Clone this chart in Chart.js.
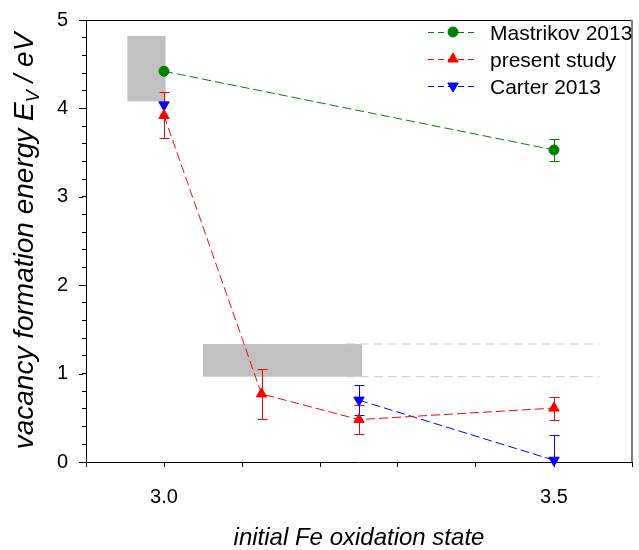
<!DOCTYPE html>
<html>
<head>
<meta charset="utf-8">
<script src="https://cdn.jsdelivr.net/npm/chart.js@4.4.1/dist/chart.umd.min.js"></script>
<style>
  html, body { margin: 0; padding: 0; background: #fff; }
</style>
</head>
<body>
<canvas id="chart" width="639" height="550"></canvas>
<script>
// ─── Data ────────────────────────────────────────────────
const mastrikovX = [3.0, 3.5];
const mastrikovY = [4.42, 3.53];
const mastrikovErr = [0, 0.12];

const presentX = [3.0, 3.125, 3.25, 3.5];
const presentY = [3.92, 0.77, 0.48, 0.61];
const presentErr = [0.26, 0.28, 0.16, 0.13];

// first Carter point stands alone (no line to the next one)
const carterX = [3.0, 3.25, 3.5];
const carterY = [4.04, 0.70, 0.02];
const carterErr = [0, 0.17, 0.28];
const carterLinked = [false, true];

// grey ranges
const rangeX0 = [2.953, 3.05];
const rangeX1 = [3.002, 3.254];
const rangeY0 = [4.08, 0.965];
const rangeY1 = [4.82, 1.335];

// dashed continuation of the lower range
const refLineX = [3.233, 3.558];
const refLineY = [1.335, 0.965];

const xTickLabels = ['3.0', '3.5'];
const yTickLabels = ['0', '1', '2', '3', '4', '5'];

const FONT = "'Liberation Sans', Arial, sans-serif";
const DASH = [9, 4];

const pts = (xs, ys) => xs.map((x, i) => ({ x, y: ys[i] }));

function series(label, xs, ys, errs, color, style, rotation, radius, linked) {
    return {
        label,
        data: pts(xs, ys),
        errors: errs,
        showLine: true,
        borderColor: color,
        backgroundColor: color,
        borderWidth: 1,
        borderDash: DASH,
        pointStyle: style,
        rotation,
        pointRadius: radius,
        pointBorderWidth: 1,
        clip: false,
        inLegend: true,
        segment: linked ? {
            borderColor: ctx => linked[ctx.p0DataIndex] === false ? 'rgba(0,0,0,0)' : undefined
        } : undefined
    };
}

const refLines = refLineY.map(y => ({
    label: 'ref',
    data: pts(refLineX, [y, y]),
    showLine: true,
    borderColor: '#c8c8c8',
    borderWidth: 1,
    borderDash: [9, 5],
    pointRadius: 0
}));

// ─── Plugins ─────────────────────────────────────────────
const behindPlugin = {
    id: 'behind',
    beforeDatasetsDraw(chart) {
        const { ctx, chartArea: a, scales: { x, y } } = chart;
        ctx.save();
        ctx.beginPath();
        ctx.rect(a.left, a.top, a.right - a.left, a.bottom - a.top);
        ctx.clip();
        // grey boxes
        ctx.fillStyle = '#c0c0c0';
        rangeX0.forEach((x0, i) => {
            const px0 = x.getPixelForValue(x0), px1 = x.getPixelForValue(rangeX1[i]);
            const py0 = y.getPixelForValue(rangeY1[i]), py1 = y.getPixelForValue(rangeY0[i]);
            ctx.fillRect(px0, py0, px1 - px0, py1 - py0);
        });
        // error bars
        chart.data.datasets.forEach(ds => {
            if (!ds.errors) return;
            ctx.strokeStyle = ds.borderColor;
            ctx.lineWidth = 1;
            ds.data.forEach((p, i) => {
                const e = ds.errors[i];
                if (!e) return;
                const px = Math.round(x.getPixelForValue(p.x)) + 0.5;
                const top = Math.round(y.getPixelForValue(p.y + e)) + 0.5;
                const bot = Math.round(y.getPixelForValue(p.y - e)) + 0.5;
                ctx.beginPath();
                ctx.moveTo(px, top); ctx.lineTo(px, bot);
                ctx.moveTo(px - 5, top); ctx.lineTo(px + 5, top);
                ctx.moveTo(px - 5, bot); ctx.lineTo(px + 5, bot);
                ctx.stroke();
            });
        });
        ctx.restore();
    }
};

const decorPlugin = {
    id: 'decor',
    afterDraw(chart) {
        const { ctx, chartArea: a, scales: { y } } = chart;
        ctx.save();
        // frame top & right
        ctx.strokeStyle = '#000';
        ctx.lineWidth = 1;
        ctx.beginPath();
        ctx.moveTo(a.left, a.top + 0.5); ctx.lineTo(a.right, a.top + 0.5);
        ctx.stroke();
        ctx.strokeStyle = '#808080';
        ctx.lineWidth = 2;
        ctx.beginPath();
        ctx.moveTo(a.right, a.top); ctx.lineTo(a.right, a.bottom);
        ctx.stroke();

        // longer major ticks on y
        ctx.strokeStyle = '#000';
        ctx.lineWidth = 1;
        yTickLabels.forEach(t => {
            const py = Math.round(y.getPixelForValue(Number(t))) + 0.5;
            ctx.beginPath();
            ctx.moveTo(a.left - 7, py); ctx.lineTo(a.left - 3, py);
            ctx.stroke();
        });

        // legend
        chart.data.datasets.filter(d => d.inLegend).forEach((ds, i) => {
            const ly = 32 + i * 27;
            ctx.strokeStyle = ds.borderColor;
            ctx.lineWidth = 1;
            ctx.setLineDash([6, 4]);
            ctx.beginPath();
            ctx.moveTo(428, ly + 0.5); ctx.lineTo(478, ly + 0.5);
            ctx.stroke();
            ctx.setLineDash([]);
            ctx.fillStyle = ds.backgroundColor;
            Chart.helpers.drawPoint(ctx, {
                pointStyle: ds.pointStyle, rotation: ds.rotation,
                radius: ds.pointRadius, borderWidth: 1
            }, 453, ly);
            ctx.fillStyle = '#000';
            ctx.font = '21px ' + FONT;
            ctx.textBaseline = 'middle';
            ctx.textAlign = 'left';
            ctx.fillText(ds.label, 490, ly + 2);
        });

        // y axis title with subscript
        const big = 'italic 28px ' + FONT, small = 'italic 18px ' + FONT;
        const parts = [
            ['vacancy formation energy ', big, 0],
            ['E', big, 0],
            ['V', small, 6],
            [' / eV', big, 0]
        ];
        let total = 0;
        parts.forEach(p => { ctx.font = p[1]; total += ctx.measureText(p[0]).width; });
        ctx.translate(33, (a.top + a.bottom) / 2);
        ctx.rotate(-Math.PI / 2);
        ctx.fillStyle = '#000';
        ctx.textBaseline = 'alphabetic';
        let cx = -total / 2;
        parts.forEach(p => {
            ctx.font = p[1];
            ctx.fillText(p[0], cx, p[2]);
            cx += ctx.measureText(p[0]).width;
        });
        ctx.restore();
    }
};

// ─── Chart ───────────────────────────────────────────────
new Chart(document.getElementById('chart'), {
    type: 'scatter',
    data: {
        datasets: [
            series('Mastrikov 2013', mastrikovX, mastrikovY, mastrikovErr, '#008000', 'circle', 0, 5),
            series('present study', presentX, presentY, presentErr, '#ff0000', 'triangle', 0, 6),
            series('Carter 2013', carterX, carterY, carterErr, '#0000ff', 'triangle', 180, 6, carterLinked),
            ...refLines
        ]
    },
    options: {
        responsive: false,
        animation: false,
        devicePixelRatio: 1,
        layout: { padding: { top: 20, right: 4, left: 0, bottom: 0 } },
        plugins: { legend: { display: false }, tooltip: { enabled: false } },
        scales: {
            x: {
                type: 'linear',
                min: 2.9, max: 3.6,
                afterFit(s) { s.height = 88; s.paddingLeft = 0; s.paddingRight = 0; },
                border: { color: '#000', width: 1 },
                grid: { drawOnChartArea: false, tickLength: 5, tickColor: '#000' },
                ticks: {
                    stepSize: 0.1,
                    autoSkip: false,
                    maxRotation: 0,
                    padding: 18,
                    color: '#000',
                    font: { family: FONT, size: 20 },
                    callback: v => xTickLabels.includes(Number(v).toFixed(1)) ? Number(v).toFixed(1) : ''
                },
                title: {
                    display: true,
                    text: 'initial Fe oxidation state',
                    color: '#000',
                    padding: 0,
                    font: { family: FONT, size: 24, style: 'italic', lineHeight: 1 }
                }
            },
            y: {
                type: 'linear',
                min: 0, max: 5,
                afterFit(s) { s.width = 86; s.paddingTop = 0; s.paddingBottom = 0; },
                border: { color: '#000', width: 1 },
                grid: { drawOnChartArea: false, tickLength: 4, tickColor: '#000' },
                ticks: {
                    stepSize: 0.2,
                    autoSkip: false,
                    padding: 14,
                    color: '#000',
                    font: { family: FONT, size: 20 },
                    callback: v => {
                        const r = Math.round(v);
                        return Math.abs(v - r) < 1e-6 && yTickLabels.includes(String(r)) ? String(r) : '';
                    }
                }
            }
        }
    },
    plugins: [behindPlugin, decorPlugin]
});
</script>
</body>
</html>
